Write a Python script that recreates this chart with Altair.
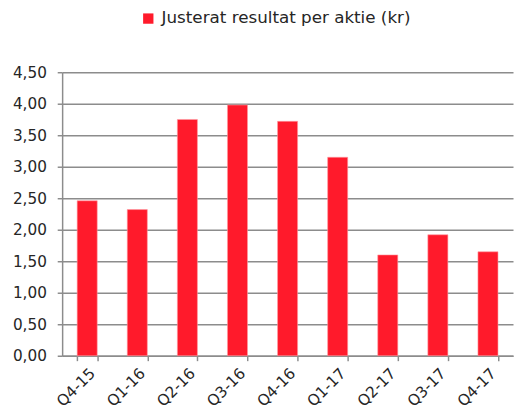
import altair as alt
import pandas as pd

quarters = ["Q4-15", "Q1-16", "Q2-16", "Q3-16", "Q4-16", "Q1-17", "Q2-17", "Q3-17", "Q4-17"]
eps = [2.46, 2.32, 3.75, 3.98, 3.72, 3.15, 1.60, 1.92, 1.65]
series = "Justerat resultat per aktie (kr)"
y_ticks = [0, 0.5, 1.0, 1.5, 2.0, 2.5, 3.0, 3.5, 4.0, 4.5]

df = pd.DataFrame({"q": quarters, "v": eps, "s": [series] * len(quarters)})

FONT = "DejaVu Sans"
TXT = "#262626"
GRID = "#8c8c8c"

chart = alt.Chart(df).mark_bar(color="#FF1A2B", stroke="#ff9aa2", strokeWidth=0.6).encode(
    x=alt.X("q:N", sort=quarters, title=None,
            scale=alt.Scale(paddingInner=0.6, paddingOuter=0.3),
            axis=alt.Axis(labelAngle=315, tickBand="extent", grid=False,
                          domainColor=GRID, domainWidth=1.5, tickColor=GRID, tickWidth=1.5,
                          tickSize=5, labelFont=FONT, labelFontSize=15.5, labelColor=TXT,
                          labelPadding=5)),
    y=alt.Y("v:Q", title=None, scale=alt.Scale(domain=[0, 4.5], nice=False),
            axis=alt.Axis(values=y_ticks,
                          labelExpr="replace(format(datum.value, '.2f'), '.', ',')",
                          grid=True, gridColor=GRID, gridWidth=1.5,
                          domainColor=GRID, domainWidth=1.5, tickColor=GRID, tickWidth=1.5,
                          tickSize=5, labelFont=FONT, labelFontSize=15.5, labelColor=TXT,
                          labelPadding=11)),
    color=alt.Color("s:N", scale=alt.Scale(range=["#FF1A2B"]),
                    legend=alt.Legend(title=None, orient="none", legendX=79, legendY=-63,
                                      symbolType="square", symbolSize=110, symbolStrokeWidth=0,
                                      labelFont=FONT, labelFontSize=17, labelColor=TXT,
                                      labelLimit=400, labelOffset=5)),
).properties(
    width=458, height=288,
    autosize=alt.AutoSizeParams(type="none"),
    padding={"left": 55, "top": 62, "right": 1, "bottom": 60},
).configure_view(stroke=None)

chart.save("out.html", embed_options={"renderer": "svg", "actions": False})
